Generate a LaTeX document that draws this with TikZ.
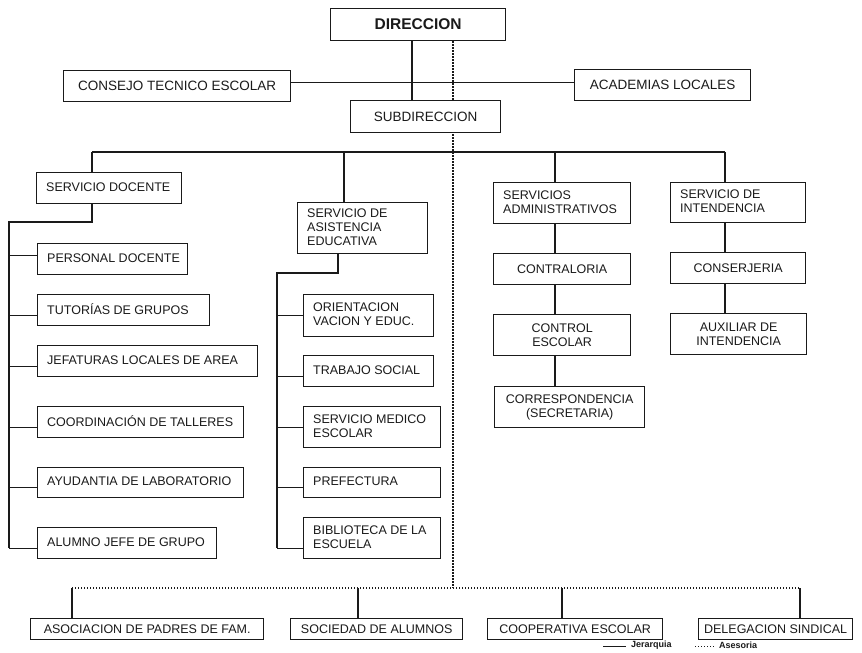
\documentclass[tikz,border=0pt]{standalone}
\usepackage{fontspec}
\setmainfont{Liberation Sans}
\pgfdeclarelayer{back}
\pgfdeclarelayer{bg}
\pgfsetlayers{back,bg,main}
\definecolor{ink}{HTML}{1A1A1A}
\newcommand\lab{\fontsize{12.5}{14}\selectfont}
\newcommand\labt{\fontsize{13.5}{15}\selectfont}
\tikzset{
  frame/.style={draw=ink, line width=1.3pt, fill=white, inner sep=0pt, anchor=north west},
  txt/.style={text=ink, inner sep=0pt, align=left, font=\lab, anchor=west},
  bc/.style 2 args={frame, text=ink, minimum width=#1pt, minimum height=#2pt, align=center, font=\lab},
  jer/.style={draw=ink, line width=1.1pt},
  ases/.style={draw=ink, line width=1.1pt, dash pattern=on 1.2pt off 1.8pt},
  leg/.style={text=ink, inner sep=0pt, anchor=west, font=\fontsize{9}{10}\selectfont\bfseries},
}
% left-aligned box: name, x, y, width, height, text
\newcommand\lbox[6]{%
  \node[frame, minimum width=#4pt, minimum height=#5pt] (#1) at (#2,#3) {};
  \node[txt] (#1-t) at ([xshift=10pt,yshift=1pt]#1.west) {#6};
}
\begin{document}
\begin{tikzpicture}[x=1pt,y=-1pt]
\begin{pgfonlayer}{back}
\fill[white] (0,0) rectangle (862,653);
\end{pgfonlayer}
\useasboundingbox (0,0) rectangle (862,653);
% top
\node[bc={175}{32}, font=\fontsize{15.5}{17}\selectfont\bfseries] (dir) at (330,8) {DIRECCION};
\node[bc={227}{31}, font=\labt] (cons) at (63,70) {CONSEJO TECNICO ESCOLAR};
\node[bc={176}{31}, font=\labt] (acad) at (574,69) {ACADEMIAS LOCALES};
\node[bc={150}{32}, font=\labt] (sub) at (350,100) {SUBDIRECCION};
% second level
\lbox{sdoc}{36}{172}{145}{31}{SERVICIO DOCENTE}
\lbox{sasi}{297}{202}{130}{51}{SERVICIO DE\\ASISTENCIA\\EDUCATIVA}
\lbox{sadm}{493}{182}{137}{41}{SERVICIOS\\ADMINISTRATIVOS}
\lbox{sint}{670}{182}{135}{40}{SERVICIO DE\\INTENDENCIA}
% column 1
\lbox{pers}{37}{243}{150}{31}{PERSONAL DOCENTE}
\lbox{tut}{37}{294}{172}{31}{TUTORÍAS DE GRUPOS}
\lbox{jef}{37}{345}{220}{31}{JEFATURAS LOCALES DE AREA}
\lbox{coord}{37}{406}{206}{31}{COORDINACIÓN DE TALLERES}
\lbox{ayud}{37}{467}{206}{30}{AYUDANTIA DE LABORATORIO}
\lbox{alum}{37}{527}{179}{31}{ALUMNO JEFE DE GRUPO}
% column 2
\lbox{orie}{303}{294}{130}{42}{ORIENTACION\\VACION Y EDUC.}
\lbox{trab}{303}{355}{130}{31}{TRABAJO SOCIAL}
\lbox{smed}{303}{406}{137}{41}{SERVICIO MEDICO\\ESCOLAR}
\lbox{pref}{303}{467}{137}{30}{PREFECTURA}
\lbox{bibl}{303}{517}{137}{41}{BIBLIOTECA DE LA\\ESCUELA}
% column 3
\node[bc={137}{31}] (cont) at (493,253) {CONTRALORIA};
\node[bc={137}{41}] (cesc) at (493,314) {CONTROL\\ESCOLAR};
\node[bc={150}{41}] (corr) at (494,386) {CORRESPONDENCIA\\(SECRETARIA)};
% column 4
\node[bc={135}{31}] (csj) at (670,252) {CONSERJERIA};
\node[bc={136}{41}] (aux) at (670,313) {AUXILIAR DE\\INTENDENCIA};
% bottom row
\node[bc={233}{21}] (asoc) at (30,618) {ASOCIACION DE PADRES DE FAM.};
\node[bc={172}{21}] (soc) at (290,618) {SOCIEDAD DE ALUMNOS};
\node[bc={175}{21}] (coop) at (487,618) {COOPERATIVA ESCOLAR};
\node[bc={154}{21}] (del) at (698,618) {DELEGACION SINDICAL};
% junction coordinates
\coordinate (dv) at (412,0);
\coordinate (av) at (453,0);
\coordinate (b1) at (92,152);
\coordinate (b2) at (344,152);
\coordinate (b3) at (555,152);
\coordinate (b4) at (725,152);
\coordinate (k1) at (92,222);
\coordinate (s1) at (9,222);
\coordinate (k2) at (338,273);
\coordinate (s2) at (277,273);
\coordinate (d1) at (72,588);
\coordinate (d2) at (358,588);
\coordinate (d3) at (562,588);
\coordinate (d4) at (800,588);
\begin{pgfonlayer}{bg}
  % advisory (dotted)
  \draw[ases] (dir.south -| av) -- (av |- d1);
  \draw[ases] (d1) -- (d4);
  % hierarchy
  \draw[jer] (dir.south -| dv) -- (sub.north -| dv);
  \draw[jer] ([yshift=4pt]cons.east) -- ([yshift=4pt]cons.east -| acad.west);
  \draw[jer] (b1) -- (b4);
  \draw[jer] (b1) -- (b1 |- sdoc.north);
  \draw[jer] (b2) -- (b2 |- sasi.north);
  \draw[jer] (b3) -- (b3 |- sadm.north);
  \draw[jer] (b4) -- (b4 |- sint.north);
  % column 1
  \draw[jer] (k1 |- sdoc.south) -- (k1) -- (s1) -- ([yshift=-5pt]s1 |- alum.west);
  \draw[jer] ([yshift=4pt]s1 |- pers.west) -- ([yshift=4pt]pers.west);
  \draw[jer] ([yshift=-5pt]s1 |- tut.west) -- ([yshift=-5pt]tut.west);
  \draw[jer] ([yshift=-5pt]s1 |- jef.west) -- ([yshift=-5pt]jef.west);
  \draw[jer] ([yshift=-5pt]s1 |- coord.west) -- ([yshift=-5pt]coord.west);
  \draw[jer] ([yshift=-5pt]s1 |- ayud.west) -- ([yshift=-5pt]ayud.west);
  \draw[jer] ([yshift=-5pt]s1 |- alum.west) -- ([yshift=-5pt]alum.west);
  % column 2
  \draw[jer] (k2 |- sasi.south) -- (k2) -- (s2) -- ([yshift=-10pt]s2 |- bibl.west);
  \draw[jer] (s2 |- orie.west) -- (orie.west);
  \draw[jer] ([yshift=-5pt]s2 |- trab.west) -- ([yshift=-5pt]trab.west);
  \draw[jer] (s2 |- smed.west) -- (smed.west);
  \draw[jer] ([yshift=-5pt]s2 |- pref.west) -- ([yshift=-5pt]pref.west);
  \draw[jer] ([yshift=-10pt]s2 |- bibl.west) -- ([yshift=-10pt]bibl.west);
  % column 3
  \draw[jer] (b3 |- sadm.south) -- (b3 |- cont.north);
  \draw[jer] (b3 |- cont.south) -- (b3 |- cesc.north);
  \draw[jer] (b3 |- cesc.south) -- (b3 |- corr.north);
  % column 4
  \draw[jer] (b4 |- sint.south) -- (b4 |- csj.north);
  \draw[jer] (b4 |- csj.south) -- (b4 |- aux.north);
  % bottom drops
  \draw[jer] (d1) -- (d1 |- asoc.north);
  \draw[jer] (d2) -- (d2 |- soc.north);
  \draw[jer] (d3) -- (d3 |- coop.north);
  \draw[jer] (d4) -- (d4 |- del.north);
\end{pgfonlayer}
% legend
\coordinate (l1) at (603,646);
\coordinate (l2) at (626,646);
\coordinate (l3) at (695,646);
\coordinate (l4) at (715,646);
\draw[jer, line width=0.8pt] (l1) -- (l2);
\node[leg] (ljer) at (631,645) {Jerarquia};
\draw[ases, line width=0.8pt] (l3) -- (l4);
\node[leg] (lase) at (719,645) {Asesoria};
\end{tikzpicture}
\end{document}
